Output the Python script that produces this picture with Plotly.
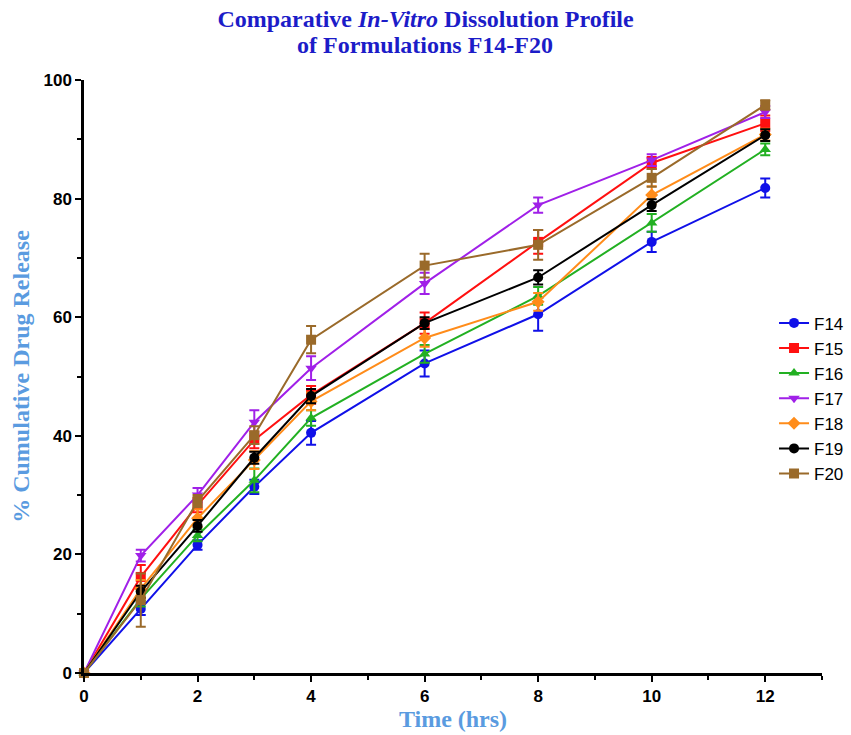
import plotly.graph_objects as go

time = [0, 1, 2, 3, 4, 6, 8, 10, 12]
names = ["F14", "F15", "F16", "F17", "F18", "F19", "F20"]

f14 = [0, 10.8, 21.6, 31.4, 40.5, 52.2, 60.5, 72.7, 81.8]
f15 = [0, 16.2, 28.3, 39.3, 46.9, 59.0, 72.7, 86.0, 92.7]
f16 = [0, 12.5, 23.2, 32.5, 43.0, 53.8, 63.6, 75.9, 88.3]
f17 = [0, 19.8, 30.0, 42.3, 51.4, 65.7, 78.9, 86.5, 94.6]
f18 = [0, 14.2, 26.1, 35.9, 45.8, 56.5, 62.6, 80.6, 90.8]
f19 = [0, 13.7, 24.8, 36.3, 46.7, 59.0, 66.7, 78.9, 90.7]
f20 = [0, 12.3, 29.0, 40.1, 56.2, 68.7, 72.2, 83.5, 95.8]

sd14 = [0, 1.0, 0.8, 1.2, 2.0, 2.2, 2.8, 1.7, 1.6]
sd15 = [0, 2.0, 1.2, 1.4, 1.5, 1.8, 2.0, 1.0, 1.3]
sd16 = [0, 1.3, 1.0, 2.0, 1.3, 1.5, 1.5, 1.5, 1.0]
sd17 = [0, 1.0, 1.2, 2.0, 2.0, 1.8, 1.3, 1.0, 1.0]
sd18 = [0, 1.5, 1.5, 1.5, 1.5, 1.5, 1.5, 1.5, 1.0]
sd19 = [0, 1.0, 1.0, 1.0, 1.2, 1.0, 1.2, 1.0, 1.0]
sd20 = [0, 4.5, 1.0, 1.5, 2.3, 2.0, 2.5, 1.5, 0.8]

series = [f14, f15, f16, f17, f18, f19, f20]
sds = [sd14, sd15, sd16, sd17, sd18, sd19, sd20]
colors = ["#1010e8", "#ff1010", "#22b022", "#a020e8", "#ff8c1a", "#000000", "#9a6a2a"]
symbols = ["circle", "square", "triangle-up", "triangle-down", "diamond", "circle", "square"]

fig = go.Figure()
for name, y, sd, c, s in zip(names, series, sds, colors, symbols):
    fig.add_trace(go.Scatter(
        x=time, y=y, name=name, mode="lines+markers",
        line=dict(color=c, width=2),
        marker=dict(symbol=s, size=10, color=c),
        error_y=dict(type="data", array=sd, visible=True, color=c, thickness=2, width=5),
        cliponaxis=False,
    ))

serif = "Liberation Serif, Times New Roman, serif"
sans = "Liberation Sans, Arial, sans-serif"
title_font = dict(family=serif, size=24, color="#1c1cc8", weight="bold")

fig.update_layout(
    width=851, height=735,
    margin=dict(l=84, r=29, t=80, b=62, autoexpand=False),
    paper_bgcolor="white", plot_bgcolor="white",
    title=dict(
        text="Comparative <i>In-Vitro</i> Dissolution Profile",
        x=0.5, xref="container", xanchor="center",
        y=1 - 19 / 735, yref="container", yanchor="middle",
        font=title_font,
    ),
    showlegend=True,
    legend=dict(
        x=0.935, y=0.62, xanchor="left", yanchor="top",
        font=dict(family=sans, size=17, color="black"),
        bgcolor="rgba(0,0,0,0)", itemwidth=30, tracegroupgap=0,
    ),
    xaxis=dict(
        range=[0, 13], tickvals=[0, 2, 4, 6, 8, 10, 12],
        showline=True, linecolor="black", linewidth=2.5,
        ticks="outside", ticklen=6, tickwidth=2, tickcolor="black",
        minor=dict(tickvals=[1, 3, 5, 7, 9, 11, 13], ticks="outside", ticklen=4, tickwidth=2, tickcolor="black"),
        showgrid=False, zeroline=False,
        tickfont=dict(family=sans, size=17, color="black", weight="bold"),
        title=dict(text="Time (hrs)", standoff=6,
                   font=dict(family=serif, size=24, color="#5a9be0", weight="bold")),
    ),
    yaxis=dict(
        range=[0, 100], tickvals=[0, 20, 40, 60, 80, 100],
        showline=True, linecolor="black", linewidth=2.5,
        ticks="outside", ticklen=6, tickwidth=2, tickcolor="black",
        minor=dict(tickvals=[10, 30, 50, 70, 90], ticks="outside", ticklen=4, tickwidth=2, tickcolor="black"),
        showgrid=False, zeroline=False,
        tickfont=dict(family=sans, size=17, color="black", weight="bold"),
        title=dict(text="% Cumulative Drug Release", standoff=8,
                   font=dict(family=serif, size=24, color="#5a9be0", weight="bold")),
    ),
    annotations=[dict(
        text="of Formulations F14-F20", xref="paper", yref="paper",
        x=(425 - 84) / 738, y=(673 - 45) / 593, xanchor="center", yanchor="middle",
        showarrow=False, font=title_font,
    )],
)

fig.write_html("out.html")
